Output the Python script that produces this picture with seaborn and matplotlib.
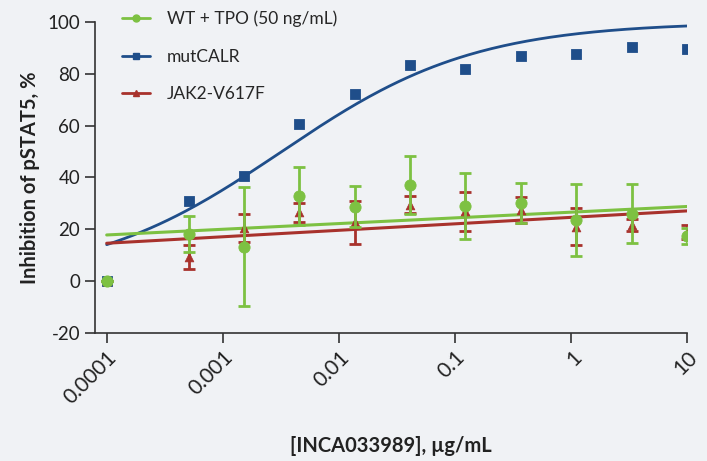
import numpy as np
import pandas as pd
import matplotlib
matplotlib.use('Agg')
import matplotlib.pyplot as plt
import seaborn as sns
from matplotlib.lines import Line2D

# 3-fold dilution series (first point = vehicle, drawn at 0.0001)
conc = [0.0001, 0.000508, 0.00152, 0.00457, 0.0137, 0.0412, 0.123, 0.370, 1.11, 3.33, 10]

wt_mean = [0, 18.3, 13.3, 32.9, 28.7, 37.1, 28.9, 30.2, 23.5, 26.0, 17.5]
wt_err = [0, 7.0, 23.0, 11.2, 8.0, 11.2, 12.8, 7.7, 14.0, 11.4, 3.0]
mut_mean = [0, 31.0, 40.6, 60.7, 72.3, 83.6, 81.9, 86.8, 87.8, 90.3, 89.6]
jak_mean = [0, 9.2, 20.4, 26.5, 22.7, 29.5, 27.0, 27.5, 21.0, 21.7, 19.0]
jak_err = [0, 4.7, 5.4, 3.5, 8.3, 3.2, 7.5, 5.0, 7.1, 2.2, 2.7]

# fitted curves
mut_fit = [14.2, 27.7, 38.6, 54.4, 68.0, 80.3, 87.5, 92.2, 95.5, 97.3, 98.5]
fit_ends = [0.0001, 10]
wt_fit = [17.8, 28.8]
jak_fit = [14.6, 27.1]

labels = ['WT + TPO (50 ng/mL)', 'mutCALR', 'JAK2-V617F']
green = '#7DC142'
blue = '#1F4E8A'
red = '#A8322C'
bg = '#F0F2F5'

df = pd.DataFrame({'conc': conc, 'wt': wt_mean, 'wt_err': wt_err,
                   'mut': mut_mean, 'jak': jak_mean, 'jak_err': jak_err})

# smooth sigmoid through the read curve values (least squares in logit space)
lx = np.log10(conc)
yf = np.array(mut_fit) / 100
slope, icpt = np.polyfit(lx, np.log(yf / (1 - yf)), 1)
xs = np.logspace(-4, 1, 200)
ys = 100 / (1 + np.exp(-(slope * np.log10(xs) + icpt)))

sns.set_style('ticks')
plt.rcParams['font.family'] = ['Lato', 'DejaVu Sans']
plt.rcParams['axes.unicode_minus'] = False
plt.rcParams['axes.edgecolor'] = '#333333'

fig, ax = plt.subplots(figsize=(7.07, 4.61), dpi=100)
fig.patch.set_facecolor(bg)
ax.set_facecolor(bg)
fig.subplots_adjust(left=0.134, right=0.972, top=0.952, bottom=0.278)

# fit lines
sns.lineplot(x=xs, y=ys, color=blue, lw=2.0, ax=ax, zorder=2)
sns.lineplot(x=fit_ends, y=jak_fit, color=red, lw=2.2, ax=ax, zorder=3)
sns.lineplot(x=fit_ends, y=wt_fit, color=green, lw=2.2, ax=ax, zorder=4)

# data points
sns.scatterplot(data=df, x='conc', y='mut', marker='s', s=55, color=blue,
                edgecolor=blue, ax=ax, zorder=5)
ax.errorbar(df['conc'], df['jak'], yerr=df['jak_err'], fmt='none', ecolor=red,
            elinewidth=2, capsize=4, capthick=2, zorder=6)
sns.scatterplot(data=df, x='conc', y='jak', marker='^', s=40, color=red,
                edgecolor=red, ax=ax, zorder=7)
ax.errorbar(df['conc'], df['wt'], yerr=df['wt_err'], fmt='none', ecolor=green,
            elinewidth=2, capsize=4, capthick=2, zorder=8)
sns.scatterplot(data=df, x='conc', y='wt', marker='o', s=65, color=green,
                edgecolor=green, ax=ax, zorder=9)

ax.set_xscale('log')
ax.set_xlim(10 ** -4.103, 10)
ax.set_ylim(-20, 100)
ax.set_xticks([0.0001, 0.001, 0.01, 0.1, 1, 10])
ax.set_xticklabels(['0.0001', '0.001', '0.01', '0.1', '1', '10'], rotation=45,
                   ha='right', rotation_mode='anchor')
ax.minorticks_off()
ax.set_yticks(range(-20, 101, 20))
ax.tick_params(axis='both', length=7, width=1.2, colors='#333333',
               labelcolor='#222222')
ax.tick_params(axis='y', labelsize=13.5)
ax.tick_params(axis='x', labelsize=15)
for s in ['left', 'bottom']:
    ax.spines[s].set_linewidth(1.2)
sns.despine(ax=ax)

ax.set_ylabel('Inhibition of pSTAT5, %', fontsize=14.5, fontweight='bold',
              color='#222222', labelpad=5)
ax.set_xlabel('[INCA033989], µg/mL', fontsize=14.5, fontweight='bold',
              color='#222222', labelpad=20)

handles = [Line2D([], [], color=c, marker=m, markersize=5, lw=2)
           for c, m in zip([green, blue, red], ['o', 's', '^'])]
ax.legend(handles, labels, loc='upper left', bbox_to_anchor=(0.034, 1.06),
          frameon=False, fontsize=12.5, labelspacing=1.25, handlelength=1.6,
          borderaxespad=0, borderpad=0.4, handletextpad=1.0)

fig.savefig('out.png', dpi=100, facecolor=bg)
